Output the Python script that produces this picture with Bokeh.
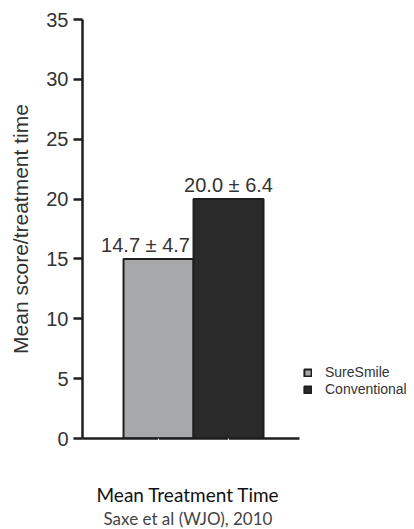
from bokeh.plotting import figure
from bokeh.models import Range1d, FixedTicker, Legend, LegendItem, Title, ColumnDataSource
from bokeh.core.properties import value
from bokeh.embed import file_html
from bokeh.resources import INLINE

categories = ["SureSmile", "Conventional"]
bar_values = [15.0, 20.0]
bar_labels = ["14.7 \u00b1 4.7", "20.0 \u00b1 6.4"]
y_ticks = [0, 5, 10, 15, 20, 25, 30, 35]
colors = ["#a7a8aa", "#2a2a2a"]

positions = [i + 1 for i in range(len(categories))]

W, H = 414, 529
px_per_unit = 70.0
x_start = -0.086
x_end = x_start + (W - 82) / px_per_unit
axis_end = x_start + (299 - 82) / px_per_unit

p = figure(width=W, height=H, output_backend="svg", toolbar_location=None,
           x_range=Range1d(x_start, x_end), y_range=Range1d(0, 35),
           min_border_left=82, min_border_right=0, min_border_top=19,
           min_border_bottom=H - 438, outline_line_color=None)
p.grid.visible = False
p.background_fill_color = "white"
p.border_fill_color = "white"

items = []
for i, cat in enumerate(categories):
    src = ColumnDataSource(dict(x=[positions[i]], top=[bar_values[i]]))
    r = p.vbar(x="x", top="top", bottom=0, width=1.0, source=src,
               fill_color=colors[i], line_color="#1e1e1e", line_width=2)
    items.append(LegendItem(label=cat, renderers=[r]))

offsets = [-13, 0]
for i in range(len(categories)):
    p.text(x=[positions[i]], y=[bar_values[i]], text=[bar_labels[i]],
           x_offset=offsets[i], y_offset=-3, text_align="center", text_baseline="bottom",
           text_font_size="20px", text_color="#333333", text_font=value("Liberation Sans"))

yax = p.yaxis[0]
yax.ticker = FixedTicker(ticks=y_ticks)
yax.minor_tick_line_color = None
yax.major_tick_in = 0
yax.major_tick_out = 9
yax.major_tick_line_width = 2.5
yax.major_tick_line_color = "#1e1e1e"
yax.axis_line_width = 2.5
yax.axis_line_color = "#1e1e1e"
yax.major_label_text_font = "Liberation Sans"
yax.major_label_text_font_size = "20px"
yax.major_label_text_color = "#333333"
yax.major_label_standoff = 5
yax.axis_label = "Mean score/treatment time"
yax.axis_label_text_font = "Liberation Sans"
yax.axis_label_text_font_size = "21px"
yax.axis_label_text_font_style = "normal"
yax.axis_label_text_color = "#333333"
yax.axis_label_standoff = 11

xax = p.xaxis[0]
xax.bounds = (x_start, axis_end)
xax.ticker = FixedTicker(ticks=positions)
xax.major_label_overrides = {pos: "" for pos in positions}
xax.minor_tick_line_color = None
xax.major_tick_line_color = "white"
xax.major_tick_line_width = 1
xax.major_tick_out = 42
xax.major_tick_in = 0
xax.axis_line_width = 2.5
xax.axis_line_color = "#1e1e1e"
xax.major_label_text_font_size = "0px"
xax.major_label_standoff = 0

legend = Legend(items=items, location=(221, 41), glyph_width=9, glyph_height=9,
                label_text_font="Liberation Sans", label_text_font_size="14px",
                label_text_color="#333333", spacing=1, padding=0, margin=0,
                border_line_color=None, background_fill_alpha=0, label_standoff=13,
                label_height=14)
p.add_layout(legend, "center")

t1 = Title(text="Mean Treatment Time", align="left", offset=14, text_font="Lato",
           text_font_size="19px", text_font_style="normal", text_color="#111111",
           standoff=0)
t2 = Title(text="Saxe et al (WJO), 2010", align="left", offset=21, text_font="Lato",
           text_font_size="17px", text_font_style="normal", text_color="#444444",
           standoff=1)
p.add_layout(t1, "below")
p.add_layout(t2, "below")

open("out.html", "w").write(file_html(p, INLINE))
